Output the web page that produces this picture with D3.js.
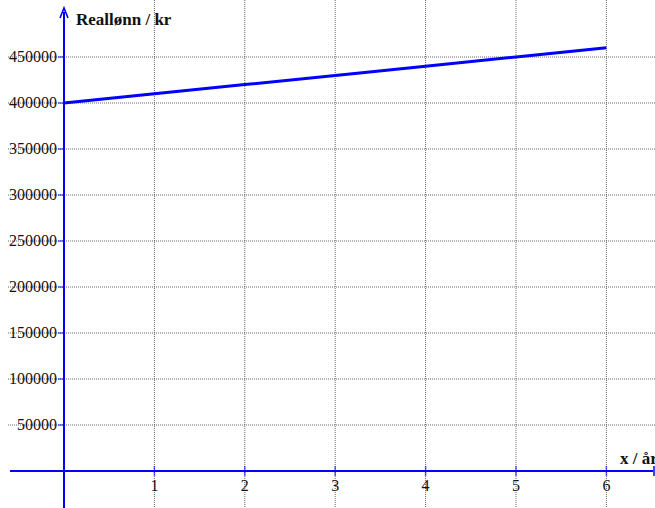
<!DOCTYPE html>
<html><head><meta charset="utf-8">
<script src="https://cdn.jsdelivr.net/npm/d3@7"></script>
<style>body{margin:0;background:#fff;}svg{display:block;}</style>
</head><body>
<script>
const years = [0, 1, 2, 3, 4, 5, 6];
const realWage = [400000, 410000, 420000, 430000, 440000, 450000, 460000];
const xTicks = [1, 2, 3, 4, 5, 6];
const yTicks = [50000, 100000, 150000, 200000, 250000, 300000, 350000, 400000, 450000];
const yLabel = "Reallønn / kr";
const xLabel = "x / år";

const W = 655, H = 508;
const svg = d3.select("body").append("svg").attr("width", W).attr("height", H);
const x = d3.scaleLinear().domain([0, 6]).range([64, 606.4]);
const y = d3.scaleLinear().domain([0, 450000]).range([471, 57]);
const font = "'Liberation Serif','Times New Roman',serif";
const blue = "#0000ff";

// grid
svg.append("g").selectAll("line").data(xTicks).join("line")
  .attr("x1", d => x(d)).attr("x2", d => x(d)).attr("y1", 0).attr("y2", H)
  .attr("stroke", "#666").attr("stroke-width", 1).attr("stroke-dasharray", "1,1");
svg.append("g").selectAll("line").data(yTicks).join("line")
  .attr("x1", 8).attr("x2", W).attr("y1", d => y(d)).attr("y2", d => y(d))
  .attr("stroke", "#666").attr("stroke-width", 1).attr("stroke-dasharray", "1,1");

// axes
svg.append("line").attr("x1", 10).attr("x2", W - 2).attr("y1", y(0)).attr("y2", y(0))
  .attr("stroke", blue).attr("stroke-width", 2);
svg.append("line").attr("x1", x(0)).attr("x2", x(0)).attr("y1", 12).attr("y2", H)
  .attr("stroke", blue).attr("stroke-width", 2);
// arrows
svg.append("path").attr("d", `M${x(0)-4},${18} L${x(0)},${8} L${x(0)+4},${18}`)
  .attr("fill", "none").attr("stroke", blue).attr("stroke-width", 1.6);
svg.append("line").attr("x1", W - 1).attr("x2", W - 1).attr("y1", y(0) - 5).attr("y2", y(0) + 5)
  .attr("stroke", blue).attr("stroke-width", 1.5);

// ticks
svg.append("g").selectAll("line").data(xTicks).join("line")
  .attr("x1", d => x(d)).attr("x2", d => x(d)).attr("y1", y(0) - 5).attr("y2", y(0) + 5)
  .attr("stroke", blue).attr("stroke-width", 1.5).attr("opacity", 0.6);
svg.append("g").selectAll("line").data(yTicks).join("line")
  .attr("x1", x(0) - 6).attr("x2", x(0)).attr("y1", d => y(d)).attr("y2", d => y(d))
  .attr("stroke", blue).attr("stroke-width", 1.5).attr("opacity", 0.6);

// tick labels
svg.append("g").selectAll("text").data(xTicks).join("text")
  .attr("x", d => x(d)).attr("y", y(0) + 20).attr("text-anchor", "middle")
  .attr("font-family", font).attr("font-size", 16).attr("fill", "#111").text(d => d);
svg.append("g").selectAll("text").data(yTicks).join("text")
  .attr("x", x(0) - 7).attr("y", d => y(d) + 5).attr("text-anchor", "end")
  .attr("font-family", font).attr("font-size", 16).attr("fill", "#111").text(d => d);

// axis labels
svg.append("text").attr("x", 76).attr("y", 25).attr("font-family", font).attr("font-weight", "bold")
  .attr("font-size", 17).attr("fill", "#111").text(yLabel);
svg.append("text").attr("x", 620).attr("y", 464).attr("font-family", font).attr("font-weight", "bold")
  .attr("font-size", 17).attr("fill", "#111").text(xLabel);

// line
const line = d3.line().x((d, i) => x(years[i])).y(d => y(d));
svg.append("path").datum(realWage).attr("d", line)
  .attr("fill", "none").attr("stroke", blue).attr("stroke-width", 3);
</script>
</body></html>
